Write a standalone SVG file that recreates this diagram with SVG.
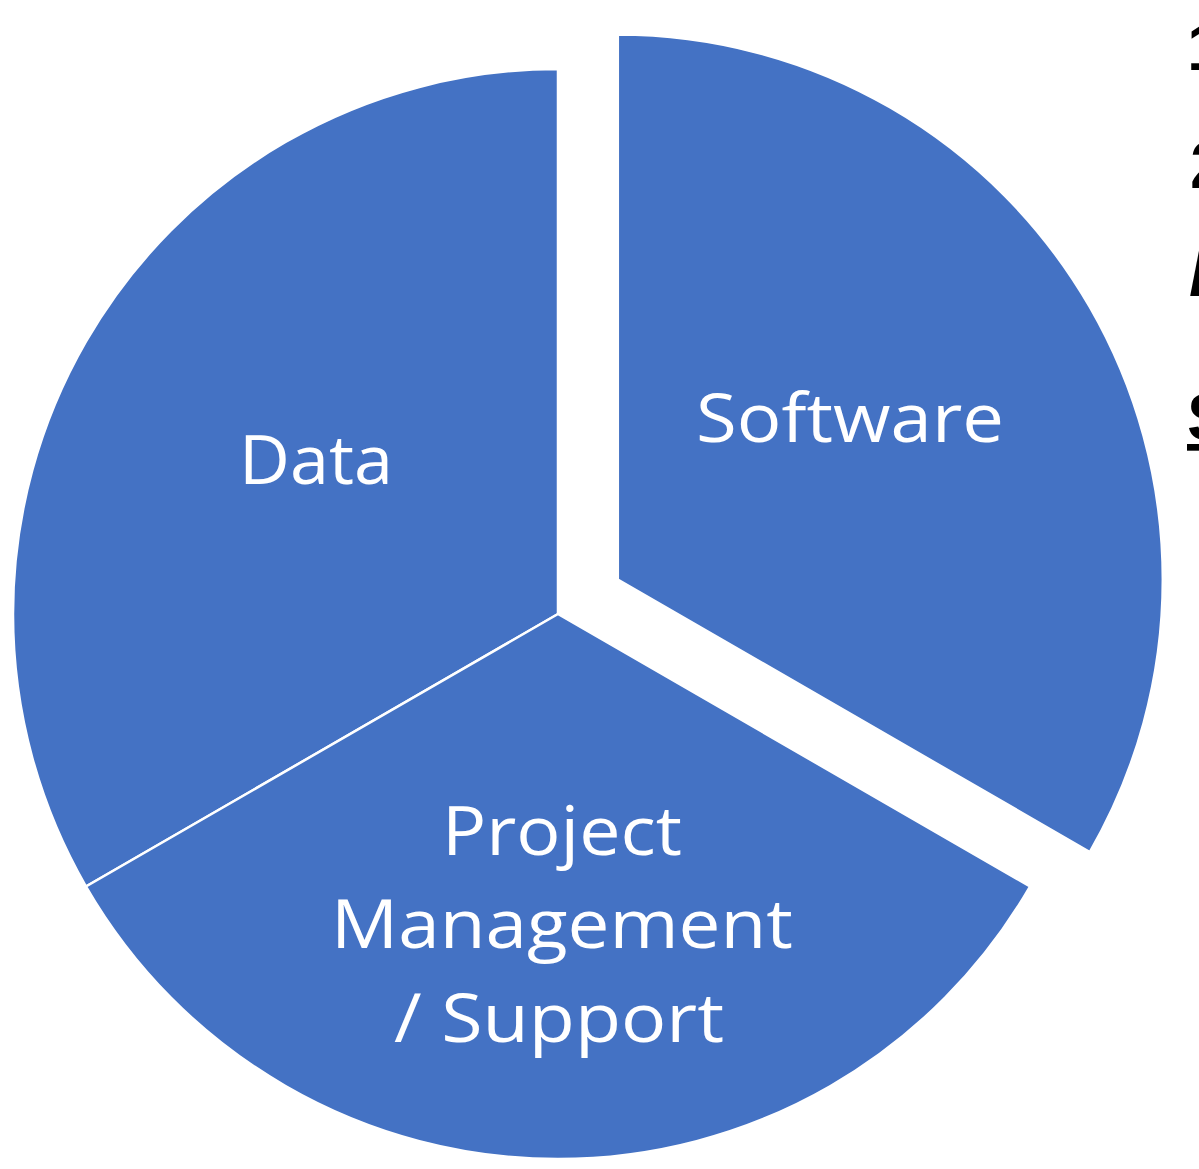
<svg xmlns="http://www.w3.org/2000/svg" width="1199" height="1169" viewBox="0 0 1199 1169">
  <style>
    .slice { fill: #4472C4; stroke: #FFFFFF; stroke-width: 2.5; stroke-linejoin: miter; }
    .label { font-family: "Open Sans", "Noto Sans", "Liberation Sans", sans-serif; font-size: 68px; fill: #FFFFFF; text-anchor: middle; }
    .side { font-family: "Liberation Sans", Arial, sans-serif; font-weight: bold; font-size: 67px; fill: #000000; }
  </style>
  <rect x="0" y="0" width="1199" height="1169" fill="#FFFFFF"/>

  <!-- pie: centre (558,614), radius 545; Software slice pulled out along -30deg -->
  <g id="slice-data">
    <path class="slice" d="M558,614 L558,69 A545,545 0 0 0 86.0,886.5 Z"/>
    <text class="label" x="316" y="484" textLength="154" lengthAdjust="spacingAndGlyphs">Data</text>
  </g>

  <g id="slice-project">
    <path class="slice" d="M558,614 L86.0,886.5 A545,545 0 0 0 1030.0,886.5 Z"/>
    <text class="label" x="562" y="855" textLength="240" lengthAdjust="spacingAndGlyphs">Project</text>
    <text class="label" x="562" y="948" textLength="462" lengthAdjust="spacingAndGlyphs">Management</text>
    <text class="label" x="559" y="1042" textLength="330" lengthAdjust="spacingAndGlyphs">/ Support</text>
  </g>

  <g id="slice-software">
    <path class="slice" d="M617.8,579.5 L617.8,34.5 A545,545 0 0 1 1089.8,852.0 Z"/>
    <text class="label" x="850" y="442" textLength="308" lengthAdjust="spacingAndGlyphs">Software</text>
  </g>

  <!-- list text running off the right edge -->
  <g id="side-text">
    <text class="side" x="1187" y="70">1</text>
    <text class="side" x="1190" y="188">2</text>
    <text class="side" x="1189" y="296" font-style="italic">I</text>
    <text class="side" x="1187" y="440" text-decoration="underline">S</text>
  </g>
</svg>
